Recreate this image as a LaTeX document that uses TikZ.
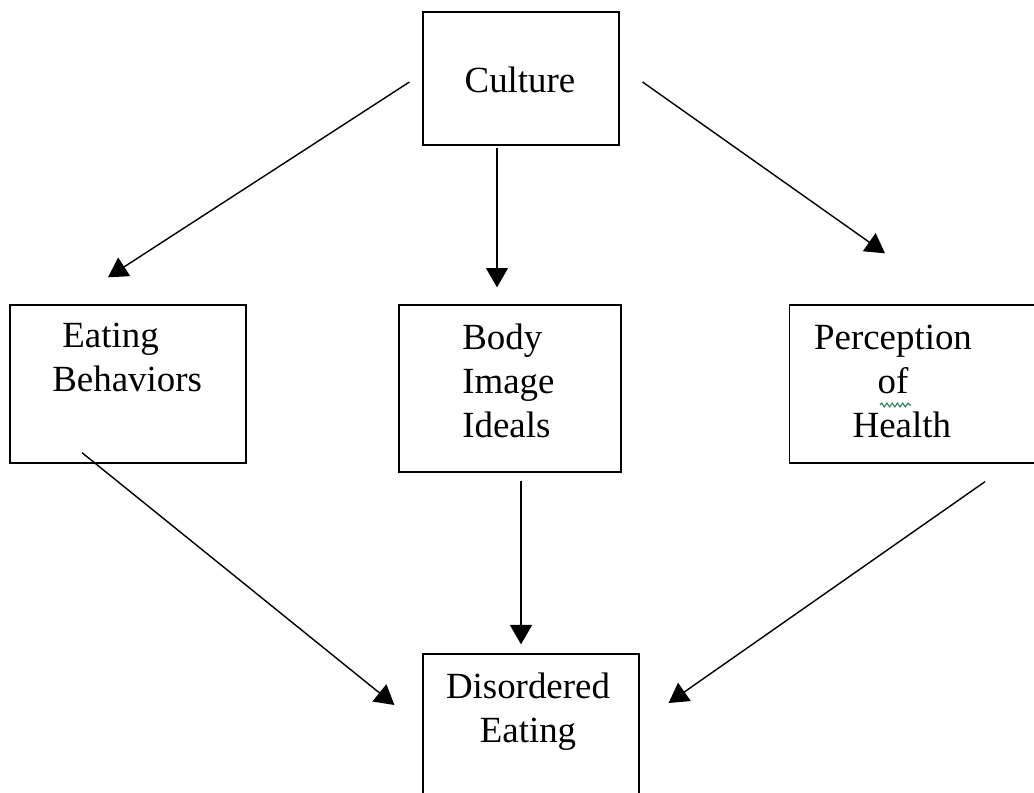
\documentclass[tikz,border=0pt]{standalone}
\usepackage{fontspec}
\setmainfont{Liberation Serif}
\usetikzlibrary{arrows.meta,decorations.pathmorphing}
\tikzset{
	>={Triangle[length=11pt,width=12.5pt]},
	factor/.style={
		rectangle,
		draw=black,
		line width=1.1pt,
		inner sep=0pt
	},
	label text/.style={
		inner sep=0pt,
		font=\fontsize{21}{25}\selectfont
	},
	link/.style={->, line width=0.8pt}
}

\begin{document}
\begin{tikzpicture}[x=0.02cm, y=-0.02cm]
		\useasboundingbox (0,0) rectangle (1034,793);
		\clip (0,0) rectangle (1034,793);

		% boxes, sizes
		\node [factor, minimum width=111.1pt, minimum height=75.4pt] (culture) at (521,78.5) {};
		\node [factor, minimum width=133.8pt, minimum height=89.6pt] (eating) at (128,384) {};
		\node [factor, minimum width=125.9pt, minimum height=94.7pt] (body) at (510,388.5) {};
		\node [factor, minimum width=145.7pt, minimum height=89.6pt] (health) at (917.5,384) {};
		\node [factor, minimum width=122.5pt, minimum height=89.6pt] (disordered) at (531,733) {};

		\node [label text, anchor=base] (culture-t) at (520,93) {Culture};
		\node [label text, anchor=north west, align=left] (eating-t) at (52,323) {\hspace{5.7pt}Eating\\Behaviors};
		\node [label text, anchor=north west, align=left] (body-t) at (462,324) {Body\\Image\\Ideals};
		\node [label text, anchor=north, align=center] (health-t) at (893,325) {Perception\\of\\\hspace{10pt}Health};
		\node [label text, anchor=north, align=center] (disordered-t) at (528,673) {Disordered\\Eating};

		% spell check squiggle
		\draw [draw=teal!70!olive, line width=0.6pt, decorate, decoration={snake, amplitude=1.1pt, segment length=3pt}] (880,405) -- (911,405);

		\draw [link] ([shift={(-13,3.5)}]culture.west) -- ([shift={(-20,-27)}]eating.north);
		\draw [link] ([shift={(-24,2)}]culture.south) -- ([shift={(-13,-17)}]body.north);
		\draw [link] ([shift={(23,3.5)}]culture.east) -- ([shift={(-32.5,-51)}]health.north);

		\draw [link] ([shift={(-46,-11)}]eating.south) -- ([shift={(-28,-28)}]disordered.west);
		\draw [link] ([shift={(11,8)}]body.south) -- ([shift={(-10,-9)}]disordered.north);
		\draw [link] ([shift={(67.5,18)}]health.south) -- ([shift={(29,-30)}]disordered.east);
	\end{tikzpicture}
\end{document}
